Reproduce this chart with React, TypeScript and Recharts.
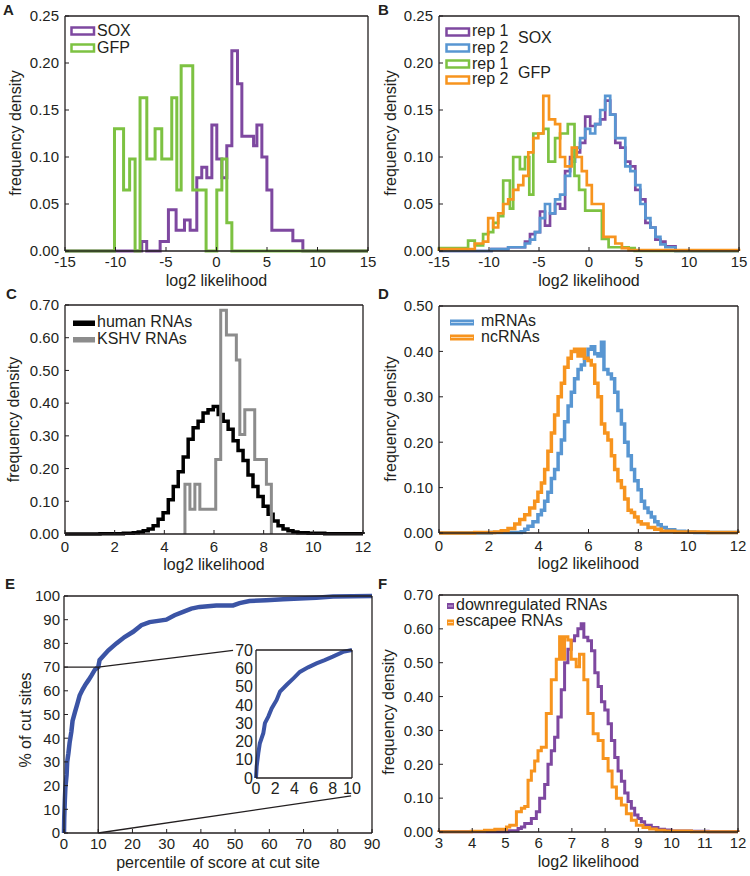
import React from 'react';
import { LineChart, Line, XAxis, YAxis, ReferenceLine } from 'recharts';

const FONT = '"Liberation Sans", Arial, Helvetica, sans-serif';
const TEXT = '#231f20';
const AXIS = '#231f20';

const PURPLE = '#7e48a0';
const GREEN = '#7dc242';
const BLUE = '#5896d2';
const ORANGE = '#f7941e';
const GRAY = '#8c8c8c';
const BLACK = '#000000';
const NAVY = '#3b54a5';

// ---------- Panel A ----------
const aSoxEdges = [-15, -7.4, -6.91, -5.58, -4.76, -4.0, -3.17, -2.61, -1.95, -1.46, -0.96, -0.46, 0.03, 0.53, 1.02, 1.52, 2.08, 2.51, 3.67, 4.0, 4.49, 4.99, 5.48, 7.56, 8.55, 15];
const aSoxHeights = [0, 0.01, 0, 0.01, 0.044, 0.022, 0.033, 0.022, 0.078, 0.089, 0.078, 0.134, 0.098, 0.078, 0.112, 0.213, 0.178, 0.122, 0.112, 0.134, 0.1, 0.065, 0.022, 0.011, 0, 0];
const aGfpEdges = [-15, -10.1, -9.2, -8.6, -8.06, -7.57, -6.9, -6.08, -5.42, -4.43, -3.93, -3.5, -2.35, -1.03, 0.03, 0.53, 1.02, 1.52, 15];
const aGfpHeights = [0, 0.13, 0.065, 0.098, 0, 0.163, 0.098, 0.13, 0.098, 0.163, 0.065, 0.197, 0.065, 0, 0.065, 0.098, 0.03, 0, 0];

// ---------- Panel B ----------
const bSoxEdges = [-15, -9.75, -8.08, -6.4, -5.9, -5.4, -4.9, -4.4, -3.9, -3.39, -2.89, -2.39, -1.89, -1.39, -0.89, -0.38, 0.12, 0.62, 1.12, 1.62, 2.12, 2.63, 3.13, 3.63, 4.13, 4.63, 5.13, 5.64, 6.14, 6.64, 7.14, 7.64, 8.65, 15];
const bSoxRep1Heights = [0, 0.002, 0.004, 0.01, 0.018, 0.02, 0.042, 0.027, 0.04, 0.05, 0.045, 0.085, 0.1, 0.105, 0.115, 0.143, 0.133, 0.135, 0.14, 0.16, 0.145, 0.115, 0.11, 0.095, 0.09, 0.065, 0.055, 0.03, 0.025, 0.012, 0.01, 0.005, 0, 0];
const bSoxRep2Heights = [0, 0.002, 0.004, 0.008, 0.012, 0.02, 0.035, 0.05, 0.04, 0.055, 0.06, 0.08, 0.095, 0.11, 0.12, 0.13, 0.125, 0.135, 0.15, 0.165, 0.145, 0.12, 0.12, 0.09, 0.085, 0.07, 0.05, 0.035, 0.025, 0.015, 0.007, 0.004, 0, 0];
const bGfpRep1Edges = [-15, -12.09, -11.42, -10.59, -10.08, -9.58, -9.08, -8.58, -7.91, -7.58, -6.91, -6.4, -5.97, -5.57, -4.57, -4.06, -3.39, -2.89, -2.12, -1.45, -0.99, -0.38, 1.29, 1.96, 3.96, 4.57, 15];
const bGfpRep1Heights = [0.003, 0.011, 0.006, 0.018, 0.02, 0.03, 0.037, 0.075, 0.045, 0.1, 0.087, 0.1, 0.06, 0.125, 0.13, 0.095, 0.12, 0.125, 0.135, 0.08, 0.065, 0.043, 0.013, 0.004, 0.003, 0, 0];
const bGfpRep2Edges = [-15, -11.42, -10.59, -10.08, -9.58, -9.08, -8.58, -8.08, -7.58, -7.07, -6.57, -6.07, -5.57, -5.07, -4.57, -4.0, -3.39, -2.89, -2.39, -1.72, -1.22, -0.72, -0.22, 0.28, 0.79, 1.45, 1.96, 2.63, 3.29, 3.96, 15];
const bGfpRep2Heights = [0.002, 0.008, 0.01, 0.035, 0.025, 0.04, 0.05, 0.055, 0.065, 0.07, 0.08, 0.105, 0.12, 0.125, 0.165, 0.14, 0.135, 0.1, 0.09, 0.11, 0.1, 0.085, 0.07, 0.05, 0.05, 0.015, 0.015, 0.008, 0.003, 0.001, 0];

// ---------- Panel C ----------
const cHumanEdges = [0, 1.41, 2.35, 2.75, 2.95, 3.15, 3.35, 3.55, 3.75, 3.95, 4.16, 4.36, 4.56, 4.76, 4.96, 5.16, 5.36, 5.56, 5.76, 5.97, 6.17, 6.37, 6.57, 6.77, 6.97, 7.17, 7.37, 7.57, 7.77, 7.98, 8.18, 8.38, 8.58, 8.78, 8.98, 9.18, 9.38, 9.79, 10.46, 12];
const cHumanHeights = [0, 0.001, 0.002, 0.004, 0.006, 0.01, 0.015, 0.025, 0.045, 0.065, 0.105, 0.145, 0.19, 0.235, 0.29, 0.325, 0.345, 0.37, 0.38, 0.39, 0.365, 0.345, 0.32, 0.285, 0.255, 0.225, 0.18, 0.145, 0.115, 0.085, 0.06, 0.04, 0.025, 0.015, 0.01, 0.006, 0.004, 0.002, 0.001, 0];
const cKshvEdges = [4.83, 5.03, 5.23, 5.43, 6.07, 6.27, 6.5, 6.9, 7.04, 7.24, 7.64, 8.11, 8.31];
const cKshvHeights = [0.152, 0.076, 0.152, 0.076, 0.228, 0.684, 0.608, 0.532, 0.304, 0.38, 0.228, 0.152, 0];

// ---------- Panel D ----------
const dMrnaEdges = [0, 2.1, 3.3, 3.44, 3.57, 3.77, 3.97, 4.11, 4.24, 4.37, 4.51, 4.64, 4.78, 4.91, 5.04, 5.18, 5.31, 5.44, 5.58, 5.71, 5.84, 5.98, 6.11, 6.25, 6.38, 6.52, 6.62, 6.78, 6.92, 7.05, 7.18, 7.32, 7.45, 7.59, 7.72, 7.85, 7.99, 8.12, 8.25, 8.39, 8.52, 8.66, 8.79, 8.92, 9.12, 9.46, 9.86, 10.26, 12];
const dMrnaHeights = [0, 0.001, 0.003, 0.008, 0.015, 0.025, 0.04, 0.05, 0.07, 0.09, 0.12, 0.14, 0.175, 0.205, 0.245, 0.28, 0.31, 0.34, 0.36, 0.37, 0.385, 0.405, 0.41, 0.395, 0.39, 0.42, 0.36, 0.35, 0.34, 0.31, 0.27, 0.24, 0.2, 0.17, 0.14, 0.115, 0.095, 0.07, 0.055, 0.045, 0.035, 0.025, 0.018, 0.012, 0.007, 0.004, 0.002, 0.001, 0];
const dNcEdges = [0, 1.43, 2.23, 2.5, 2.77, 3.04, 3.24, 3.44, 3.64, 3.84, 3.97, 4.11, 4.24, 4.37, 4.51, 4.64, 4.78, 4.91, 5.04, 5.18, 5.31, 5.44, 5.58, 5.71, 5.84, 5.98, 6.11, 6.25, 6.38, 6.52, 6.65, 6.78, 6.92, 7.05, 7.18, 7.32, 7.45, 7.59, 7.72, 7.85, 7.99, 8.12, 8.39, 8.66, 8.92, 9.46, 10.8, 12];
const dNcHeights = [0, 0.001, 0.002, 0.005, 0.01, 0.02, 0.03, 0.04, 0.055, 0.07, 0.09, 0.11, 0.14, 0.18, 0.22, 0.26, 0.3, 0.33, 0.365, 0.385, 0.4, 0.405, 0.39, 0.405, 0.385, 0.38, 0.37, 0.33, 0.3, 0.24, 0.22, 0.205, 0.17, 0.14, 0.115, 0.1, 0.075, 0.05, 0.045, 0.035, 0.025, 0.02, 0.012, 0.008, 0.004, 0.002, 0.001, 0];

// ---------- Panel E ----------
const ePercentile = [0, 0.07, 0.24, 0.4, 0.76, 0.93, 1.28, 1.63, 2.15, 2.5, 3.2, 3.9, 4.57, 5.43, 6.3, 7.16, 8.0, 9.07, 10, 10.4, 12.9, 15.3, 17.7, 20.2, 22.6, 25, 27.5, 29.9, 32.3, 34.8, 37.2, 39.6, 44.5, 49.4, 51.3, 54.2, 59.1, 64, 68.8, 73.7, 78.6, 90];
const eCutSites = [0, 6.4, 13.6, 19, 24.5, 30, 33.6, 38, 42.7, 47.3, 51, 54.5, 58, 60.5, 62.7, 64.5, 66.4, 69, 70, 73, 77, 80, 82.7, 84.9, 87.7, 89, 89.5, 90, 91.9, 93.3, 94.7, 95.4, 96, 96, 97, 97.9, 98.2, 98.6, 98.9, 99.3, 99.8, 100];
const eZoomCorner = { x: 10, y: 70 };
const eInsetTopAnchor = { x: 49.4, y: 77.1 };
const eInsetBottomAnchor = { x: 83.9, y: 15.7 };

// ---------- Panel F ----------
const fDownEdges = [3, 4.07, 5.08, 5.38, 5.48, 5.58, 5.78, 5.93, 6.03, 6.18, 6.28, 6.38, 6.48, 6.58, 6.68, 6.78, 6.88, 6.98, 7.08, 7.18, 7.28, 7.36, 7.48, 7.59, 7.69, 7.79, 7.89, 7.99, 8.09, 8.19, 8.29, 8.39, 8.49, 8.59, 8.69, 8.79, 8.89, 8.99, 9.09, 9.19, 9.39, 9.59, 9.79, 9.99, 10.6, 11.1, 12];
const fDownHeights = [0.0005, 0.001, 0.004, 0.01, 0.015, 0.025, 0.04, 0.06, 0.1, 0.14, 0.2, 0.24, 0.28, 0.34, 0.42, 0.5, 0.54, 0.565, 0.58, 0.6, 0.615, 0.575, 0.565, 0.535, 0.47, 0.43, 0.385, 0.36, 0.32, 0.27, 0.22, 0.18, 0.15, 0.115, 0.09, 0.07, 0.05, 0.04, 0.03, 0.02, 0.013, 0.008, 0.006, 0.003, 0.002, 0.001, 0];
const fEscEdges = [3, 3.97, 4.37, 4.68, 5.03, 5.13, 5.33, 5.48, 5.58, 5.68, 5.78, 5.88, 5.98, 6.08, 6.23, 6.38, 6.53, 6.63, 6.71, 6.78, 6.88, 6.98, 7.13, 7.23, 7.36, 7.48, 7.64, 7.79, 7.94, 8.09, 8.21, 8.34, 8.49, 8.64, 8.79, 8.94, 9.14, 9.34, 9.54, 9.79, 10.6, 12];
const fEscHeights = [0.001, 0.002, 0.005, 0.008, 0.015, 0.02, 0.06, 0.07, 0.075, 0.153, 0.18, 0.21, 0.24, 0.25, 0.35, 0.45, 0.51, 0.577, 0.51, 0.577, 0.567, 0.51, 0.488, 0.525, 0.45, 0.35, 0.29, 0.27, 0.217, 0.18, 0.133, 0.1, 0.08, 0.054, 0.035, 0.02, 0.013, 0.009, 0.005, 0.003, 0.001, 0];

// ---------- Ticks ----------
const ticksAB_x = [-15, -10, -5, 0, 5, 10, 15];
const ticksAB_y = [0, 0.05, 0.1, 0.15, 0.2, 0.25];
const ticksCD_x = [0, 2, 4, 6, 8, 10, 12];
const ticksC_y = [0, 0.1, 0.2, 0.3, 0.4, 0.5, 0.6, 0.7];
const ticksD_y = [0, 0.1, 0.2, 0.3, 0.4, 0.5];
const ticksE_x = [0, 10, 20, 30, 40, 50, 60, 70, 80, 90];
const ticksE_y = [0, 10, 20, 30, 40, 50, 60, 70, 80, 90, 100];
const ticksInset_x = [0, 2, 4, 6, 8, 10];
const ticksInset_y = [0, 10, 20, 30, 40, 50, 60, 70];
const ticksF_x = [3, 4, 5, 6, 7, 8, 9, 10, 11, 12];
const ticksF_y = [0, 0.1, 0.2, 0.3, 0.4, 0.5, 0.6, 0.7];

type Pt = { x: number; y: number };

function stepData(edges: number[], heights: number[]): Pt[] {
  const pts: Pt[] = [{ x: edges[0], y: 0 }];
  edges.forEach((e, i) => pts.push({ x: e, y: heights[i] }));
  return pts;
}

const eData: Pt[] = ePercentile.map((x, i) => ({ x, y: eCutSites[i] }));
const eInsetData: Pt[] = eData.filter((p) => p.x <= 10);

type SeriesDef = { name: string; color: string; width: number; data: Pt[]; curve: 'stepAfter' | 'linear' };

const fmt2 = (v: number) => v.toFixed(2);
const fmt0 = (v: number) => String(v);

interface PanelProps {
  px: number; py: number; pw: number; ph: number;
  xDomain: [number, number]; xTicks: number[];
  yDomain: [number, number]; yTicks: number[];
  yFmt: (v: number) => string;
  series: SeriesDef[];
  xGap: number; yGap: number;
  inner?: boolean;
  fontSize?: number;
  extra?: React.ReactNode[];
}

function Panel({ px, py, pw, ph, xDomain, xTicks, yDomain, yTicks, yFmt, series, xGap, yGap, inner = true, fontSize = 15, extra = [] }: PanelProps) {
  const L = 62, R = 22, T = 12, B = 40;
  const W = pw + L + R;
  const H = ph + T + B;
  const ts = inner ? -4 : 0;
  const tickStyle = { fill: TEXT, fontSize, fontFamily: FONT };
  const axisLine = { stroke: AXIS, strokeWidth: 1.3 };
  const tickLine: any = inner ? { stroke: AXIS, strokeWidth: 1 } : false;
  return (
    <div style={{ position: 'absolute', left: px - L, top: py - T, width: W, height: H }}>
      <LineChart width={W} height={H} margin={{ top: T - 1, right: R - 1, left: L - 52, bottom: B - 30 }}>
        <XAxis xAxisId="b" type="number" dataKey="x" orientation="bottom" domain={xDomain} ticks={xTicks} interval={0}
          height={30} tickSize={ts} tickMargin={xGap - ts} tick={tickStyle} axisLine={axisLine} tickLine={tickLine} />
        <XAxis xAxisId="t" type="number" dataKey="x" orientation="top" domain={xDomain} ticks={xTicks} interval={0}
          height={1} tickSize={ts} tick={false} axisLine={axisLine} tickLine={tickLine} />
        <YAxis yAxisId="l" type="number" orientation="left" domain={yDomain} ticks={yTicks} interval={0}
          width={52} tickSize={ts} tickMargin={yGap - ts} tick={tickStyle} tickFormatter={yFmt} axisLine={axisLine} tickLine={tickLine} />
        <YAxis yAxisId="r" type="number" orientation="right" domain={yDomain} ticks={yTicks} interval={0}
          width={1} tickSize={ts} tick={false} axisLine={axisLine} tickLine={tickLine} />
        {series.map((s) => (
          <Line key={s.name} xAxisId="b" yAxisId="l" data={s.data} dataKey="y" type={s.curve}
            stroke={s.color} strokeWidth={s.width} dot={false} activeDot={false}
            isAnimationActive={false} strokeLinejoin="miter" strokeLinecap="butt" />
        ))}
        {extra}
      </LineChart>
    </div>
  );
}

const seriesA: SeriesDef[] = [
  { name: 'SOX', color: PURPLE, width: 3, data: stepData(aSoxEdges, aSoxHeights), curve: 'stepAfter' },
  { name: 'GFP', color: GREEN, width: 3, data: stepData(aGfpEdges, aGfpHeights), curve: 'stepAfter' },
];
const seriesB: SeriesDef[] = [
  { name: 'SOX rep 1', color: PURPLE, width: 2.7, data: stepData(bSoxEdges, bSoxRep1Heights), curve: 'stepAfter' },
  { name: 'SOX rep 2', color: BLUE, width: 2.7, data: stepData(bSoxEdges, bSoxRep2Heights), curve: 'stepAfter' },
  { name: 'GFP rep 1', color: GREEN, width: 2.7, data: stepData(bGfpRep1Edges, bGfpRep1Heights), curve: 'stepAfter' },
  { name: 'GFP rep 2', color: ORANGE, width: 2.7, data: stepData(bGfpRep2Edges, bGfpRep2Heights), curve: 'stepAfter' },
];
const seriesC: SeriesDef[] = [
  { name: 'human RNAs', color: BLACK, width: 3.5, data: stepData(cHumanEdges, cHumanHeights), curve: 'stepAfter' },
  { name: 'KSHV RNAs', color: GRAY, width: 3, data: stepData(cKshvEdges, cKshvHeights), curve: 'stepAfter' },
];
const seriesD: SeriesDef[] = [
  { name: 'mRNAs', color: BLUE, width: 3.5, data: stepData(dMrnaEdges, dMrnaHeights), curve: 'stepAfter' },
  { name: 'ncRNAs', color: ORANGE, width: 3.5, data: stepData(dNcEdges, dNcHeights), curve: 'stepAfter' },
];
const seriesE: SeriesDef[] = [
  { name: 'cut sites', color: NAVY, width: 4.5, data: eData, curve: 'linear' },
];
const seriesInset: SeriesDef[] = [
  { name: 'cut sites inset', color: NAVY, width: 4, data: eInsetData, curve: 'linear' },
];
const seriesF: SeriesDef[] = [
  { name: 'downregulated RNAs', color: PURPLE, width: 3, data: stepData(fDownEdges, fDownHeights), curve: 'stepAfter' },
  { name: 'escapee RNAs', color: ORANGE, width: 3, data: stepData(fEscEdges, fEscHeights), curve: 'stepAfter' },
];

const eGuides = [
  <ReferenceLine key="g1" xAxisId="b" yAxisId="l" segment={[{ x: 0, y: eZoomCorner.y }, { x: eZoomCorner.x, y: eZoomCorner.y }]} stroke={AXIS} strokeWidth={1.3} />,
  <ReferenceLine key="g2" xAxisId="b" yAxisId="l" segment={[{ x: eZoomCorner.x, y: 0 }, { x: eZoomCorner.x, y: eZoomCorner.y }]} stroke={AXIS} strokeWidth={1.3} />,
  <ReferenceLine key="g3" xAxisId="b" yAxisId="l" segment={[{ x: eZoomCorner.x, y: eZoomCorner.y }, eInsetTopAnchor]} stroke={AXIS} strokeWidth={1.3} />,
  <ReferenceLine key="g4" xAxisId="b" yAxisId="l" segment={[{ x: eZoomCorner.x, y: 0 }, eInsetBottomAnchor]} stroke={AXIS} strokeWidth={1.3} />,
];

function XTitle({ x, y, text }: { x: number; y: number; text: string }) {
  return <text x={x} y={y} textAnchor="middle" fontSize={16} fill={TEXT}>{text}</text>;
}
function YTitle({ x, y, text }: { x: number; y: number; text: string }) {
  return (
    <text x={x} y={y} textAnchor="middle" dominantBaseline="central" fontSize={16} fill={TEXT}
      transform={`rotate(-90 ${x} ${y})`}>{text}</text>
  );
}
function Letter({ x, y, text }: { x: number; y: number; text: string }) {
  return <text x={x} y={y} fontSize={15} fontWeight="bold" fill={TEXT}>{text}</text>;
}
function LegendText({ x, y, text }: { x: number; y: number; text: string }) {
  return <text x={x} y={y} fontSize={16} fill={TEXT}>{text}</text>;
}

export default function App() {
  return (
    <div style={{ position: 'absolute', left: 0, top: 0, width: 750, height: 876, background: '#ffffff', overflow: 'hidden', fontFamily: FONT }}>
      <Panel px={65} py={16} pw={303} ph={235} xDomain={[-15, 15]} xTicks={ticksAB_x} yDomain={[0, 0.25]} yTicks={ticksAB_y}
        yFmt={fmt2} series={seriesA} xGap={5} yGap={6} />
      <Panel px={439} py={16} pw={300} ph={235} xDomain={[-15, 15]} xTicks={ticksAB_x} yDomain={[0, 0.25]} yTicks={ticksAB_y}
        yFmt={fmt2} series={seriesB} xGap={5} yGap={6} />
      <Panel px={65} py={305} pw={298} ph={229} xDomain={[0, 12]} xTicks={ticksCD_x} yDomain={[0, 0.7]} yTicks={ticksC_y}
        yFmt={fmt2} series={seriesC} xGap={7} yGap={6} />
      <Panel px={439} py={306} pw={299} ph={227} xDomain={[0, 12]} xTicks={ticksCD_x} yDomain={[0, 0.5]} yTicks={ticksD_y}
        yFmt={fmt2} series={seriesD} xGap={7} yGap={6} />
      <Panel px={64} py={596} pw={308} ph={237} xDomain={[0, 90]} xTicks={ticksE_x} yDomain={[0, 100]} yTicks={ticksE_y}
        yFmt={fmt0} series={seriesE} xGap={5} yGap={4} extra={eGuides} />
      <Panel px={256} py={650} pw={96} ph={128} xDomain={[0, 10]} xTicks={ticksInset_x} yDomain={[0, 70]} yTicks={ticksInset_y}
        yFmt={fmt0} series={seriesInset} xGap={5} yGap={3} inner={false} fontSize={16} />
      <Panel px={439} py={595} pw={299} ph={237} xDomain={[3, 12]} xTicks={ticksF_x} yDomain={[0, 0.7]} yTicks={ticksF_y}
        yFmt={fmt2} series={seriesF} xGap={5} yGap={6} />

      <svg width={750} height={876} style={{ position: 'absolute', left: 0, top: 0, pointerEvents: 'none' }} fontFamily={FONT}>
        <Letter x={3} y={15} text="A" />
        <Letter x={378} y={15} text="B" />
        <Letter x={6} y={299} text="C" />
        <Letter x={378} y={299} text="D" />
        <Letter x={5} y={589} text="E" />
        <Letter x={378} y={589} text="F" />

        <XTitle x={216.5} y={285.5} text="log2 likelihood" />
        <XTitle x={589} y={285.5} text="log2 likelihood" />
        <XTitle x={214} y={570} text="log2 likelihood" />
        <XTitle x={588.5} y={569} text="log2 likelihood" />
        <XTitle x={218} y={867.5} text="percentile of score at cut site" />
        <XTitle x={588.5} y={866.5} text="log2 likelihood" />

        <YTitle x={15} y={133} text="frequency density" />
        <YTitle x={390} y={133} text="frequency density" />
        <YTitle x={13} y={419.5} text="frequency density" />
        <YTitle x={390} y={419} text="frequency density" />
        <YTitle x={25} y={720} text="% of cut sites" />
        <YTitle x={388} y={712} text="frequency density" />

        {/* Legend A */}
        <rect x={71.5} y={27.5} width={22.5} height={7} fill="none" stroke={seriesA[0].color} strokeWidth={2.5} />
        <LegendText x={97} y={36} text="SOX" />
        <rect x={71.5} y={44.5} width={22.5} height={7} fill="none" stroke={seriesA[1].color} strokeWidth={2.5} />
        <LegendText x={97} y={53} text="GFP" />

        {/* Legend B */}
        <rect x={446.5} y={28.5} width={22.5} height={7} fill="none" stroke={seriesB[0].color} strokeWidth={2.5} />
        <LegendText x={472} y={36} text="rep 1" />
        <rect x={446.5} y={44.5} width={22.5} height={7} fill="none" stroke={seriesB[1].color} strokeWidth={2.5} />
        <LegendText x={472} y={52.5} text="rep 2" />
        <rect x={446.5} y={60.5} width={22.5} height={7} fill="none" stroke={seriesB[2].color} strokeWidth={2.5} />
        <LegendText x={472} y={68.5} text="rep 1" />
        <rect x={446.5} y={76.5} width={22.5} height={7} fill="none" stroke={seriesB[3].color} strokeWidth={2.5} />
        <LegendText x={472} y={84} text="rep 2" />
        <LegendText x={518} y={43} text="SOX" />
        <LegendText x={518} y={78} text="GFP" />

        {/* Legend C */}
        <rect x={73} y={320.5} width={22} height={5.5} fill={seriesC[0].color} />
        <LegendText x={97} y={327} text="human RNAs" />
        <rect x={73} y={337} width={22} height={5.5} fill={seriesC[1].color} />
        <LegendText x={97} y={343.5} text="KSHV RNAs" />

        {/* Legend D */}
        <rect x={450} y={319.5} width={24} height={6} fill={seriesD[0].color} />
        <line x1={451} x2={473} y1={322.5} y2={322.5} stroke="#bcd6ef" strokeWidth={1} />
        <LegendText x={481} y={326} text="mRNAs" />
        <rect x={450} y={334.5} width={24} height={6} fill={seriesD[1].color} />
        <line x1={451} x2={473} y1={337.5} y2={337.5} stroke="#fcd3a0" strokeWidth={1} />
        <LegendText x={481} y={341.5} text="ncRNAs" />

        {/* Legend F */}
        <rect x={447} y={603} width={7} height={6} fill={seriesF[0].color} />
        <line x1={448} x2={453} y1={606} y2={606} stroke="#cdb6dd" strokeWidth={1} />
        <LegendText x={456} y={609.5} text="downregulated RNAs" />
        <rect x={447} y={619.5} width={7} height={6} fill={seriesF[1].color} />
        <line x1={448} x2={453} y1={622.5} y2={622.5} stroke="#fcd3a0" strokeWidth={1} />
        <LegendText x={456} y={626} text="escapee RNAs" />
      </svg>
    </div>
  );
}
